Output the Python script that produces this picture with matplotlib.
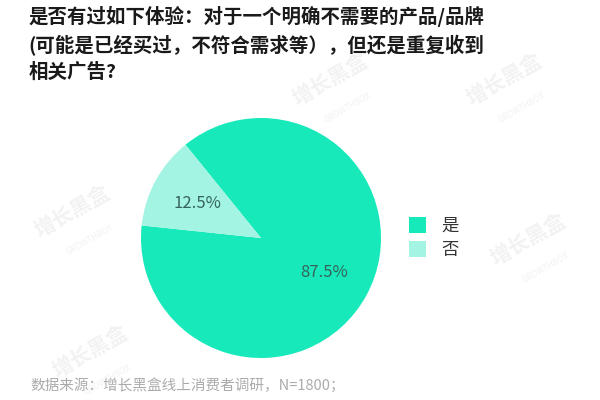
import matplotlib.pyplot as plt

plt.rcParams['font.family'] = ['Noto Sans CJK SC', 'DejaVu Sans']

title = '是否有过如下体验：对于一个明确不需要的产品/品牌\n(可能是已经买过，不符合需求等），但还是重复收到\n相关广告?'
labels = ['是', '否']
shares = [87.5, 12.5]
colors = ['#17e9bb', '#a3f4e2']
source = '数据来源：增长黑盒线上消费者调研，N=1800；'

fig = plt.figure(figsize=(6, 4), dpi=100)

# watermarks, very faint, kept under the pie
for x, y in [(0.12, 0.47), (0.88, 0.40), (0.15, 0.12), (0.55, 0.80), (0.84, 0.80)]:
    fig.text(x, y, '增长黑盒', fontsize=15, color='#f2f2f2', rotation=30,
             ha='center', va='center', fontweight='bold', zorder=-5)
    fig.text(x + 0.03, y - 0.07, 'GROWTHBOX', fontsize=6, color='#f2f2f2', rotation=30,
             ha='center', va='center', zorder=-5)

fig.text(0.047, 0.985, title, fontsize=14, fontweight='bold', color='#1a1a1a',
         ha='left', va='top', linespacing=1.45)

ax = fig.add_axes([0.235, 0.105, 0.40, 0.60])
ax.patch.set_visible(False)
wedges, texts, autotexts = ax.pie(shares, colors=colors, startangle=174,
                                  autopct='%.1f%%', pctdistance=0.6,
                                  wedgeprops={'linewidth': 0},
                                  textprops={'fontsize': 12, 'color': '#35645b'})
ax.set_xlim(-1, 1)
ax.set_ylim(-1, 1)
ax.set_aspect('equal')

ax.legend(wedges, labels, loc='center left', bbox_to_anchor=(1.05, 0.5),
          frameon=False, fontsize=12.5, handlelength=1.0, handleheight=1.0,
          handletextpad=0.9, labelspacing=0.35, labelcolor='#333333')

fig.text(0.05, 0.037, source, fontsize=10.5, color='#ababab', ha='left', va='center')

fig.savefig('out.png', dpi=100)
